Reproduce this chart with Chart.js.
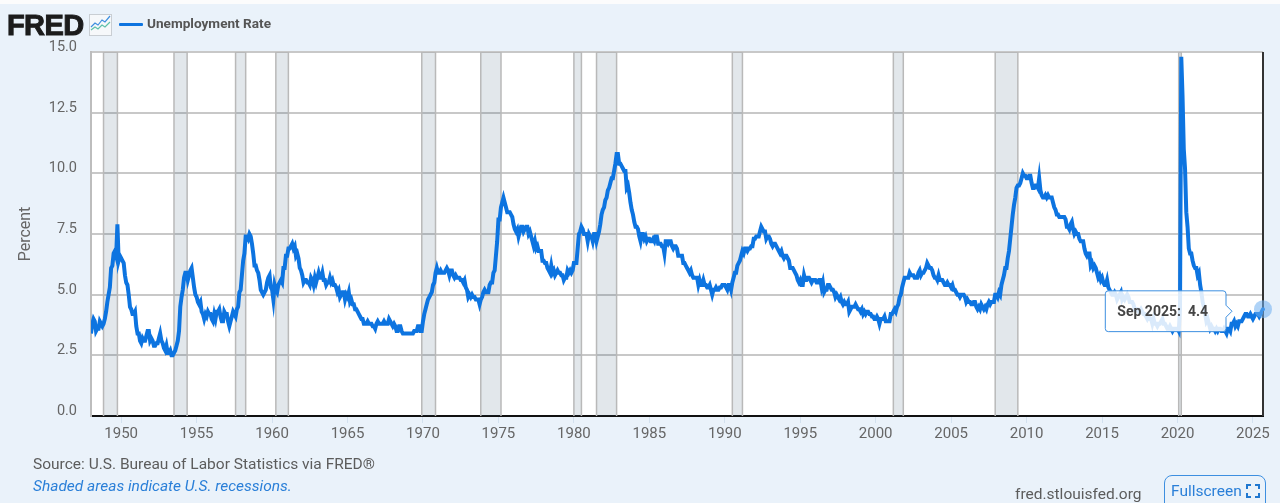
<!DOCTYPE html>
<html>
<head>
<meta charset="utf-8">
<title>Unemployment Rate</title>
<script src="https://cdn.jsdelivr.net/npm/chart.js@4"></script>
<style>
  html, body { margin: 0; padding: 0; width: 1280px; height: 503px; overflow: hidden; background: #eaf2fa; font-family: Roboto, sans-serif; }
  canvas { position: absolute; left: 0; top: 0; display: block; }
  .strip { position: absolute; left: 0; top: 0; width: 1280px; height: 4px; background: #fcfcfc; }
  .txt { position: absolute; white-space: nowrap; }
  .logo { left: 7px; top: 9px; font-family: "Liberation Sans", sans-serif; font-weight: 700; font-size: 29px; line-height: 32px; letter-spacing: -0.6px; color: #1c1c1c; -webkit-text-stroke: 1px #1c1c1c; }
  .icon { position: absolute; left: 89px; top: 14px; }
  .swatch { position: absolute; left: 119px; top: 23px; width: 24px; height: 3px; background: #0d74e0; border-radius: 1px; }
  .legend { left: 147px; top: 15px; font-size: 13.6px; line-height: 16px; font-weight: 700; color: #555; }
  .source { left: 33px; top: 456px; font-size: 15.5px; line-height: 17px; color: #5c5c5c; }
  .note { left: 33px; top: 478px; font-size: 15.5px; line-height: 17px; font-style: italic; color: #2a7fd8; }
  .site { left: 1015px; top: 486px; font-size: 15.5px; line-height: 17px; color: #5c5c5c; }
  .full { position: absolute; left: 1164px; top: 475px; width: 100px; height: 40px; border: 1px solid #3d8fe0; border-radius: 8px; box-sizing: content-box; }
  .full span { position: absolute; left: 6px; top: 7px; font-size: 15.5px; line-height: 17px; color: #2a7fd8; }
  .full svg { position: absolute; left: 81px; top: 8px; }
</style>
</head>
<body>
<canvas id="fredChart" width="1280" height="503"></canvas>
<div class="strip"></div>
<div class="txt logo">FRED</div>
<svg class="icon" width="23" height="22" viewBox="0 0 23 22">
  <rect x="0.5" y="0.5" width="22" height="21" fill="#f6f8fa" stroke="#c9ced3"/>
  <polyline points="2,16 6,13 9,15 13,11 16,13 21,8" fill="none" stroke="#5fc0a8" stroke-width="1.2"/>
  <polyline points="2,13 6,9 9,11 13,6 16,8 21,2" fill="none" stroke="#3f8fdf" stroke-width="1.2"/>
</svg>
<div class="swatch"></div>
<div class="txt legend">Unemployment Rate</div>
<div class="txt source">Source: U.S. Bureau of Labor Statistics via FRED®</div>
<div class="txt note">Shaded areas indicate U.S. recessions.</div>
<div class="txt site">fred.stlouisfed.org</div>
<div class="full"><span>Fullscreen</span>
  <svg width="14" height="14" viewBox="0 0 14 14" fill="none" stroke="#1f77d0" stroke-width="2">
    <path d="M1 5V1H5M9 1H13V5M13 9V13H9M5 13H1V9"/>
  </svg>
</div>

<script>
const startYear = 1948;
const monthNames = ['Jan', 'Feb', 'Mar', 'Apr', 'May', 'Jun', 'Jul', 'Aug', 'Sep', 'Oct', 'Nov', 'Dec'];
const yTicks = [0, 2.5, 5, 7.5, 10, 12.5, 15];

// monthly values, Jan 1948 to Sep 2025
const unemploymentRate = [
    3.4, 3.8, 4.0, 3.9, 3.5, 3.6, 3.6, 3.9, 3.8, 3.7, 3.8, 4.0,
    4.3, 4.7, 5.0, 5.3, 6.1, 6.2, 6.7, 6.8, 6.6, 7.9, 6.4, 6.6,
    6.5, 6.4, 6.3, 5.8, 5.5, 5.4, 5.0, 4.5, 4.4, 4.2, 4.2, 4.3,
    3.7, 3.4, 3.4, 3.1, 3.0, 3.2, 3.1, 3.1, 3.3, 3.5, 3.5, 3.1,
    3.2, 3.1, 2.9, 2.9, 3.0, 3.0, 3.2, 3.4, 3.1, 3.0, 2.8, 2.7,
    2.9, 2.6, 2.6, 2.7, 2.5, 2.5, 2.6, 2.7, 2.9, 3.1, 3.5, 4.5,
    4.9, 5.2, 5.7, 5.9, 5.9, 5.6, 5.8, 6.0, 6.1, 5.7, 5.3, 5.0,
    4.9, 4.7, 4.6, 4.7, 4.3, 4.2, 4.0, 4.2, 4.1, 4.3, 4.2, 4.2,
    4.0, 3.9, 4.2, 4.0, 4.3, 4.3, 4.4, 4.1, 3.9, 3.9, 4.3, 4.2,
    4.2, 3.9, 3.7, 3.9, 4.1, 4.3, 4.2, 4.1, 4.4, 4.5, 5.1, 5.2,
    5.8, 6.4, 6.7, 7.4, 7.4, 7.3, 7.5, 7.4, 7.1, 6.7, 6.2, 6.2,
    6.0, 5.9, 5.6, 5.2, 5.1, 5.0, 5.1, 5.2, 5.5, 5.7, 5.8, 5.3,
    5.2, 4.8, 5.4, 5.2, 5.1, 5.4, 5.5, 5.6, 5.5, 6.1, 6.1, 6.6,
    6.6, 6.9, 6.9, 7.0, 7.1, 6.9, 7.0, 6.6, 6.7, 6.5, 6.1, 6.0,
    5.8, 5.5, 5.6, 5.6, 5.5, 5.5, 5.4, 5.7, 5.6, 5.4, 5.7, 5.5,
    5.7, 5.9, 5.7, 5.7, 5.9, 5.6, 5.6, 5.4, 5.5, 5.5, 5.7, 5.5,
    5.6, 5.4, 5.4, 5.3, 5.1, 5.2, 4.9, 5.0, 5.1, 5.1, 4.8, 5.0,
    4.9, 5.1, 4.7, 4.8, 4.6, 4.6, 4.4, 4.4, 4.3, 4.2, 4.1, 4.0,
    4.0, 3.8, 3.8, 3.8, 3.9, 3.8, 3.8, 3.8, 3.7, 3.7, 3.6, 3.8,
    3.9, 3.8, 3.8, 3.8, 3.8, 3.9, 3.8, 3.8, 3.8, 4.0, 3.9, 3.8,
    3.7, 3.8, 3.7, 3.5, 3.5, 3.7, 3.7, 3.5, 3.4, 3.4, 3.4, 3.4,
    3.4, 3.4, 3.4, 3.4, 3.4, 3.5, 3.5, 3.5, 3.7, 3.7, 3.5, 3.5,
    3.9, 4.2, 4.4, 4.6, 4.8, 4.9, 5.0, 5.1, 5.4, 5.5, 5.9, 6.1,
    5.9, 5.9, 6.0, 5.9, 5.9, 5.9, 6.0, 6.1, 6.0, 5.8, 6.0, 6.0,
    5.8, 5.7, 5.8, 5.7, 5.7, 5.7, 5.6, 5.6, 5.5, 5.6, 5.3, 5.2,
    4.9, 5.0, 4.9, 5.0, 4.9, 4.9, 4.8, 4.8, 4.8, 4.6, 4.8, 4.9,
    5.1, 5.2, 5.1, 5.1, 5.1, 5.4, 5.5, 5.5, 5.9, 6.0, 6.6, 7.2,
    8.1, 8.1, 8.6, 8.8, 9.0, 8.8, 8.6, 8.4, 8.4, 8.4, 8.3, 8.2,
    7.9, 7.7, 7.6, 7.7, 7.4, 7.6, 7.8, 7.8, 7.6, 7.7, 7.8, 7.8,
    7.5, 7.6, 7.4, 7.2, 7.0, 7.2, 6.9, 7.0, 6.8, 6.8, 6.8, 6.4,
    6.4, 6.3, 6.3, 6.1, 6.0, 5.9, 6.2, 5.9, 6.0, 5.8, 5.9, 6.0,
    5.9, 5.9, 5.8, 5.8, 5.6, 5.7, 5.7, 6.0, 5.9, 6.0, 5.9, 6.0,
    6.3, 6.3, 6.3, 6.9, 7.5, 7.6, 7.8, 7.7, 7.5, 7.5, 7.5, 7.2,
    7.5, 7.4, 7.4, 7.2, 7.5, 7.5, 7.2, 7.4, 7.6, 7.9, 8.3, 8.5,
    8.6, 8.9, 9.0, 9.3, 9.4, 9.6, 9.8, 9.8, 10.1, 10.4, 10.8, 10.8,
    10.4, 10.4, 10.3, 10.2, 10.1, 10.1, 9.4, 9.5, 9.2, 8.8, 8.5, 8.3,
    8.0, 7.8, 7.8, 7.7, 7.4, 7.2, 7.5, 7.5, 7.3, 7.4, 7.2, 7.3,
    7.3, 7.2, 7.2, 7.3, 7.2, 7.4, 7.4, 7.1, 7.1, 7.1, 7.0, 7.0,
    6.7, 7.2, 7.2, 7.1, 7.2, 7.2, 7.0, 6.9, 7.0, 7.0, 6.9, 6.6,
    6.6, 6.6, 6.6, 6.3, 6.3, 6.2, 6.1, 6.0, 5.9, 6.0, 5.8, 5.7,
    5.7, 5.7, 5.7, 5.4, 5.6, 5.4, 5.4, 5.6, 5.4, 5.4, 5.3, 5.3,
    5.4, 5.2, 5.0, 5.2, 5.2, 5.3, 5.2, 5.2, 5.3, 5.3, 5.4, 5.4,
    5.4, 5.3, 5.2, 5.4, 5.4, 5.2, 5.5, 5.7, 5.9, 5.9, 6.2, 6.3,
    6.4, 6.6, 6.8, 6.7, 6.9, 6.9, 6.8, 6.9, 6.9, 7.0, 7.0, 7.3,
    7.3, 7.4, 7.4, 7.4, 7.6, 7.8, 7.7, 7.6, 7.6, 7.3, 7.4, 7.4,
    7.3, 7.1, 7.0, 7.1, 7.1, 7.0, 6.9, 6.8, 6.7, 6.8, 6.6, 6.5,
    6.6, 6.6, 6.5, 6.4, 6.1, 6.1, 6.1, 6.0, 5.9, 5.8, 5.6, 5.5,
    5.6, 5.4, 5.4, 5.8, 5.6, 5.6, 5.7, 5.7, 5.6, 5.5, 5.6, 5.6,
    5.6, 5.5, 5.5, 5.6, 5.6, 5.3, 5.5, 5.1, 5.2, 5.2, 5.4, 5.4,
    5.3, 5.2, 5.2, 5.1, 4.9, 5.0, 4.9, 4.8, 4.9, 4.7, 4.6, 4.7,
    4.6, 4.6, 4.7, 4.3, 4.4, 4.5, 4.5, 4.5, 4.6, 4.5, 4.4, 4.4,
    4.3, 4.4, 4.2, 4.3, 4.2, 4.3, 4.3, 4.2, 4.2, 4.1, 4.1, 4.0,
    4.0, 4.1, 4.0, 3.8, 4.0, 4.0, 4.0, 4.1, 3.9, 3.9, 3.9, 3.9,
    4.2, 4.2, 4.3, 4.4, 4.3, 4.5, 4.6, 4.9, 5.0, 5.3, 5.5, 5.7,
    5.7, 5.7, 5.7, 5.9, 5.8, 5.8, 5.8, 5.7, 5.7, 5.7, 5.9, 6.0,
    5.8, 5.9, 5.9, 6.0, 6.1, 6.3, 6.2, 6.1, 6.1, 6.0, 5.8, 5.7,
    5.7, 5.6, 5.8, 5.6, 5.6, 5.6, 5.5, 5.4, 5.4, 5.5, 5.4, 5.4,
    5.3, 5.4, 5.2, 5.2, 5.1, 5.0, 5.0, 4.9, 5.0, 5.0, 5.0, 4.9,
    4.7, 4.8, 4.7, 4.7, 4.6, 4.6, 4.7, 4.7, 4.5, 4.4, 4.5, 4.4,
    4.6, 4.5, 4.4, 4.5, 4.4, 4.6, 4.7, 4.6, 4.7, 4.7, 4.7, 5.0,
    5.0, 4.9, 5.1, 5.0, 5.4, 5.6, 5.8, 6.1, 6.1, 6.5, 6.8, 7.3,
    7.8, 8.3, 8.7, 9.0, 9.4, 9.5, 9.5, 9.6, 9.8, 10.0, 9.9, 9.9,
    9.8, 9.8, 9.9, 9.9, 9.6, 9.4, 9.4, 9.5, 9.5, 9.4, 9.8, 9.3,
    9.1, 9.0, 9.0, 9.1, 9.0, 9.1, 9.0, 9.0, 9.0, 8.8, 8.6, 8.5,
    8.3, 8.3, 8.2, 8.2, 8.2, 8.2, 8.2, 8.1, 7.8, 7.8, 7.7, 7.9,
    8.0, 7.7, 7.5, 7.6, 7.5, 7.5, 7.3, 7.2, 7.2, 7.2, 6.9, 6.7,
    6.6, 6.7, 6.7, 6.2, 6.3, 6.1, 6.2, 6.1, 5.9, 5.7, 5.8, 5.6,
    5.7, 5.5, 5.4, 5.4, 5.6, 5.3, 5.2, 5.1, 5.0, 5.0, 5.1, 5.0,
    4.8, 4.9, 5.0, 5.1, 4.8, 4.9, 4.8, 4.9, 5.0, 4.9, 4.7, 4.7,
    4.7, 4.6, 4.4, 4.4, 4.4, 4.3, 4.3, 4.4, 4.3, 4.2, 4.2, 4.1,
    4.0, 4.1, 4.0, 4.0, 3.8, 4.0, 3.8, 3.8, 3.7, 3.8, 3.8, 3.9,
    4.0, 3.8, 3.8, 3.7, 3.6, 3.6, 3.7, 3.6, 3.5, 3.6, 3.6, 3.6,
    3.6, 3.5, 4.4, 14.8, 13.2, 11.0, 10.2, 8.4, 7.8, 6.9, 6.7, 6.7,
    6.4, 6.2, 6.1, 6.1, 5.8, 5.9, 5.4, 5.1, 4.7, 4.5, 4.2, 3.9,
    4.0, 3.8, 3.6, 3.7, 3.6, 3.6, 3.5, 3.6, 3.5, 3.6, 3.6, 3.5,
    3.5, 3.6, 3.5, 3.4, 3.6, 3.6, 3.5, 3.8, 3.8, 3.9, 3.7, 3.8,
    3.7, 3.9, 3.9, 3.9, 4.0, 4.1, 4.2, 4.2, 4.1, 4.1, 4.2, 4.1,
    4.0, 4.1, 4.2, 4.2, 4.2, 4.1, 4.2, 4.3, 4.4
];

// start and end of each recession, in decimal years
const recessionStarts = [1948.83, 1953.5, 1957.58, 1960.25, 1969.92, 1973.83, 1980.0, 1981.5, 1990.5, 2001.17, 2007.92, 2020.08];
const recessionEnds = [1949.75, 1954.37, 1958.25, 1961.08, 1970.83, 1975.17, 1980.5, 1982.83, 1991.17, 2001.83, 2009.42, 2020.25];

const linePoints = unemploymentRate.map((v, i) => ({ x: startYear + i / 12, y: v }));
const lastIndex = linePoints.length - 1;
const lastPoint = linePoints[lastIndex];

const recessionSets = recessionStarts.map((s, i) => ({
    type: 'line',
    data: [{ x: s, y: 0 }, { x: s, y: 15 }, { x: recessionEnds[i], y: 15 }, { x: recessionEnds[i], y: 0 }],
    borderColor: '#b9b9b9',
    borderWidth: 1.5,
    backgroundColor: 'rgba(52, 83, 113, 0.14)',
    fill: 'origin',
    pointRadius: 0,
    tension: 0,
    order: 5
}));

// fond blanc du tracé et bord droit sombre
const plotFrame = {
    id: 'plotFrame',
    beforeDraw(chart) {
        const { ctx, chartArea } = chart;
        ctx.save();
        ctx.fillStyle = '#ffffff';
        ctx.fillRect(chartArea.left, chartArea.top, chartArea.width, chartArea.height);
        ctx.restore();
    },
    beforeDatasetsDraw(chart) {
        const { ctx, chartArea } = chart;
        ctx.save();
        ctx.strokeStyle = '#333333';
        ctx.lineWidth = 2;
        ctx.beginPath();
        ctx.moveTo(chartArea.right, chartArea.top);
        ctx.lineTo(chartArea.right, chartArea.bottom);
        ctx.stroke();
        ctx.restore();
    }
};

// l'infobulle de FRED est un peu plus basse que le point
Chart.Tooltip.positioners.belowPoint = function (items) {
    const el = items[0].element;
    return { x: el.x, y: el.y + 2 };
};

const fredChart = new Chart(document.getElementById('fredChart').getContext('2d'), {
    type: 'line',
    data: {
        datasets: [
            {
                label: 'Unemployment Rate',
                data: linePoints,
                borderColor: '#0d74e0',
                borderWidth: 4,
                pointRadius: 0,
                tension: 0,
                order: 1
            },
            {
                label: 'halo',
                data: [lastPoint],
                pointRadius: 9,
                pointBorderWidth: 0,
                pointBackgroundColor: 'rgba(110, 175, 240, 0.55)',
                showLine: false,
                clip: false,
                order: 0
            },
            {
                label: 'dot',
                data: [lastPoint],
                pointRadius: 2,
                pointBorderWidth: 0,
                pointBackgroundColor: '#0d74e0',
                showLine: false,
                clip: false,
                order: 0
            },
            ...recessionSets
        ]
    },
    plugins: [plotFrame],
    options: {
        responsive: false,
        animation: false,
        events: [],
        layout: { padding: { top: 52, right: 17, bottom: 0, left: 0 } },
        plugins: {
            legend: { display: false },
            tooltip: {
                enabled: true,
                position: 'belowPoint',
                filter: item => item.datasetIndex === 0,
                xAlign: 'right',
                yAlign: 'center',
                caretSize: 6,
                caretPadding: 31,
                cornerRadius: 3,
                padding: { top: 13, bottom: 11, left: 12, right: 18 },
                backgroundColor: 'rgba(255, 255, 255, 0.85)',
                borderColor: '#3d8fe0',
                borderWidth: 1,
                displayColors: false,
                bodyColor: '#444444',
                bodyFont: { family: 'Roboto', size: 14, weight: 'bold' },
                callbacks: {
                    title: () => '',
                    label: item => {
                        const year = startYear + Math.floor(item.dataIndex / 12);
                        return monthNames[item.dataIndex % 12] + ' ' + year + ':  ' + item.parsed.y.toFixed(1);
                    }
                }
            }
        },
        scales: {
            x: {
                type: 'linear',
                min: startYear,
                max: lastPoint.x,
                afterFit: scale => { scale.height = 87; },
                border: { color: '#111111', width: 2 },
                grid: { drawOnChartArea: false, drawTicks: true, tickLength: 7, tickColor: '#d3e1ef' },
                ticks: {
                    stepSize: 5,
                    includeBounds: false,
                    autoSkip: false,
                    maxRotation: 0,
                    padding: 2,
                    color: '#666666',
                    font: { family: 'Roboto', size: 15 },
                    callback: v => String(v)
                }
            },
            y: {
                min: 0,
                max: 15,
                afterFit: scale => { scale.width = 91; },
                afterBuildTicks: scale => { scale.ticks = yTicks.map(v => ({ value: v })); },
                border: { color: '#bdbdbd', width: 2 },
                grid: { color: '#c8c8c8', lineWidth: 2, drawTicks: false },
                title: {
                    display: true,
                    text: 'Percent',
                    color: '#666666',
                    font: { family: 'Roboto', size: 16 },
                    padding: { top: 16, bottom: 0 }
                },
                ticks: {
                    padding: 14,
                    color: '#666666',
                    font: { family: 'Roboto', size: 14.5, lineHeight: '9px' },
                    // une seconde ligne vide remonte le libellé au-dessus de la grille
                    callback: v => [v.toFixed(1), '']
                }
            }
        }
    }
});

fredChart.tooltip.setActiveElements([{ datasetIndex: 0, index: lastIndex }], { x: 0, y: 0 });
fredChart.update();
</script>
</body>
</html>
